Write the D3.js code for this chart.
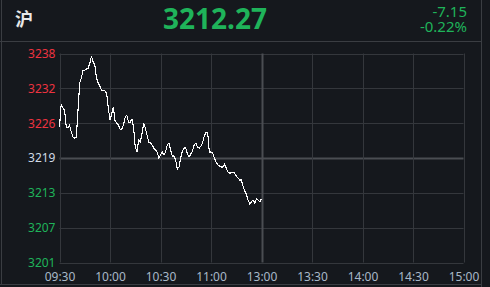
<!DOCTYPE html>
<html>
<head>
<meta charset="utf-8">
<script src="https://cdn.jsdelivr.net/npm/d3@7"></script>
<style>
  html, body { margin: 0; padding: 0; background: #15181d; }
  svg { display: block; }
</style>
</head>
<body>
<div id="chart"></div>
<script>
// index name + last quote
const indexName = "沪";
const lastPrice = "3212.27";
const change = "-7.15";
const changePct = "-0.22%";

const preClose = 3219.42;
const yStep = 6.14;
const yTickLabels = ["3238", "3232", "3226", "3219", "3213", "3207", "3201"];
const xTickLabels = ["09:30", "10:00", "10:30", "11:00", "13:00", "13:30", "14:00", "14:30", "15:00"];
const totalMinutes = 240;

// minute prices 09:30 - 11:30
const prices = [
  3224.87, 3228.92, 3228.22, 3227.86, 3224.87, 3224.70, 3225.23, 3223.99, 3223.11, 3222.94,
  3223.11, 3227.86, 3232.61, 3233.49, 3234.90, 3234.90, 3235.08, 3235.25, 3236.13, 3237.40,
  3236.31, 3235.78, 3233.49, 3232.61, 3232.09, 3231.38, 3231.38, 3231.21, 3230.86, 3228.22,
  3226.11, 3227.16, 3228.39, 3225.93, 3225.58, 3225.23, 3224.52, 3224.52, 3225.23, 3226.63,
  3226.98, 3225.75, 3225.75, 3226.28, 3224.87, 3221.36, 3220.48, 3222.59, 3222.23, 3223.64,
  3225.58, 3224.70, 3223.47, 3222.23, 3222.06, 3221.71, 3221.18, 3220.83, 3220.48, 3219.42,
  3219.95, 3220.48, 3219.95, 3220.48, 3221.71, 3222.06, 3220.83, 3219.77, 3219.77, 3219.07,
  3217.48, 3217.84, 3219.42, 3220.65, 3221.18, 3221.18, 3220.12, 3219.60, 3220.12, 3220.65,
  3221.71, 3222.06, 3221.36, 3221.18, 3221.53, 3222.06, 3223.29, 3223.99, 3223.99, 3220.48,
  3220.48, 3220.30, 3219.42, 3218.72, 3218.19, 3218.01, 3217.84, 3217.84, 3218.36, 3217.66,
  3216.96, 3216.78, 3216.78, 3216.96, 3216.78, 3216.25, 3215.90, 3215.55, 3215.55, 3214.49,
  3213.61, 3213.09, 3212.03, 3211.33, 3211.68, 3212.03, 3211.50, 3212.21, 3212.03, 3211.68,
  3212.27
];

const W = 490, H = 287;
const bg = "#15181d";
const gridColor = "#34373c";
const midColor = "#4a4d52";
const red = "#ee3340";
const green = "#1fb35a";
const font = "'Noto Sans', 'Open Sans', sans-serif";

const svg = d3.select("#chart").append("svg").attr("width", W).attr("height", H);
svg.append("rect").attr("width", W).attr("height", H).attr("fill", bg);

// outer panel frame
const frame = svg.append("g").attr("stroke", "#3a3d42").attr("stroke-width", 1);
frame.append("line").attr("x1", 1.5).attr("x2", 1.5).attr("y1", 0).attr("y2", 285);
frame.append("line").attr("x1", 481.5).attr("x2", 481.5).attr("y1", 0).attr("y2", H);
frame.append("line").attr("x1", 0).attr("x2", 482).attr("y1", 41.5).attr("y2", 41.5);
frame.append("line").attr("x1", 0).attr("x2", 482).attr("y1", 284.5).attr("y2", 284.5);

// header
svg.append("text").attr("x", 15).attr("y", 26)
  .attr("font-family", "'Noto Sans CJK SC', sans-serif").attr("font-weight", "bold")
  .attr("font-size", 18).attr("fill", "#e8e8e8").text(indexName);
svg.append("text").attr("x", 215).attr("y", 29).attr("text-anchor", "middle")
  .attr("font-family", font).attr("font-weight", "bold")
  .attr("font-size", 28).attr("fill", green).text(lastPrice);
svg.append("text").attr("x", 467).attr("y", 16.5).attr("text-anchor", "end")
  .attr("font-family", font).attr("font-size", 15).attr("fill", green).text(change);
svg.append("text").attr("x", 467).attr("y", 31.5).attr("text-anchor", "end")
  .attr("font-family", font).attr("font-size", 15).attr("fill", green).text(changePct);

// plot area
const margin = { left: 59.5, right: 463.5, top: 53.5, bottom: 262.5 };
const x = d3.scaleLinear().domain([0, totalMinutes]).range([margin.left, margin.right]);
const y = d3.scaleLinear()
  .domain([preClose - 3 * yStep, preClose + 3 * yStep])
  .range([margin.bottom, margin.top]);

const yTicks = yTickLabels.map((d, i) => preClose + (3 - i) * yStep);
const xTicks = xTickLabels.map((d, i) => i * 30);

// grid
const grid = svg.append("g");
grid.selectAll("line.h").data(yTicks).join("line")
  .attr("x1", margin.left).attr("x2", margin.right)
  .attr("y1", (d) => Math.round(y(d)) + 0.5).attr("y2", (d) => Math.round(y(d)) + 0.5)
  .attr("stroke", (d, i) => (i === 3 ? midColor : gridColor))
  .attr("stroke-width", (d, i) => (i === 3 ? 2 : 1));
grid.selectAll("line.v").data(xTicks).join("line")
  .attr("x1", (d) => Math.round(x(d)) + 0.5).attr("x2", (d) => Math.round(x(d)) + 0.5)
  .attr("y1", margin.top).attr("y2", margin.bottom)
  .attr("stroke", (d, i) => (i === 4 ? midColor : gridColor))
  .attr("stroke-width", (d, i) => (i === 4 ? 2 : 1));

// y axis labels
const yAxis = svg.append("g")
  .attr("transform", `translate(${margin.left - 4},0)`)
  .call(d3.axisLeft(y).tickValues(yTicks).tickSize(0).tickPadding(0)
    .tickFormat((d, i) => yTickLabels[i]));
yAxis.select(".domain").remove();
yAxis.selectAll("text")
  .attr("font-family", font).attr("font-size", 12)
  .attr("fill", (d, i) => (i < 3 ? red : i === 3 ? "#d0dae6" : green));

// x axis labels
const xAxis = svg.append("g")
  .attr("transform", `translate(0,${margin.bottom})`)
  .call(d3.axisBottom(x).tickValues(xTicks).tickSize(0).tickPadding(10)
    .tickFormat((d, i) => xTickLabels[i]));
xAxis.select(".domain").remove();
xAxis.selectAll("text")
  .attr("font-family", font).attr("font-size", 12).attr("fill", "#a9b8c8");

// price line
const line = d3.line().x((d, i) => x(i)).y((d) => y(d));
svg.append("path").datum(prices)
  .attr("d", line)
  .attr("fill", "none")
  .attr("stroke", "#ffffff")
  .attr("stroke-width", 1.1)
  .attr("shape-rendering", "crispEdges");
</script>
</body>
</html>
